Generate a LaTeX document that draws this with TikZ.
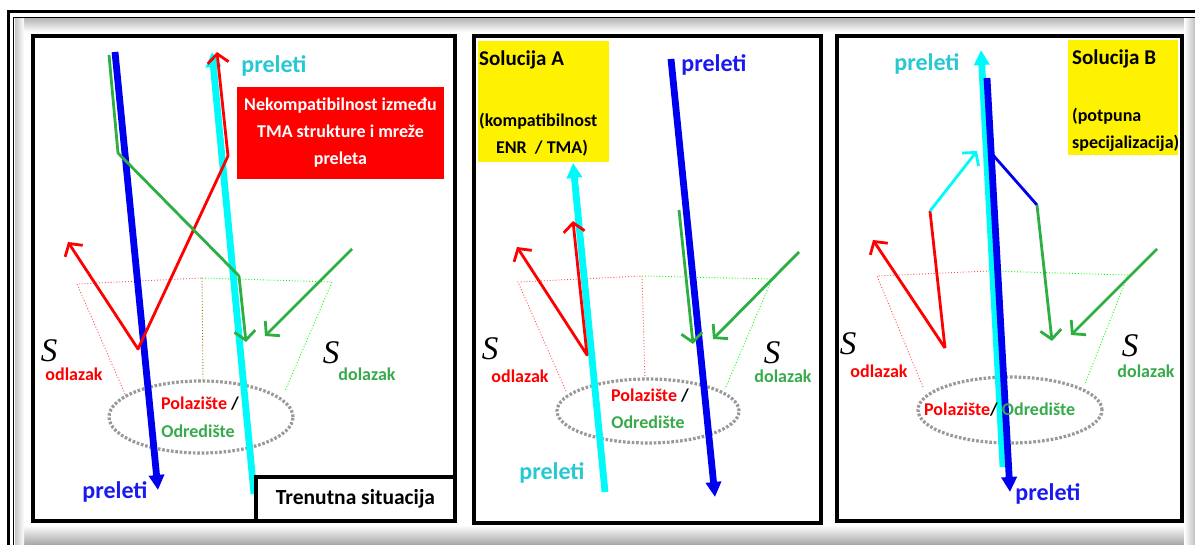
\documentclass[tikz,border=0pt]{standalone}
\usepackage{fontspec}
\setmainfont{Carlito}
\newfontfamily\symfont{Liberation Serif}
\usetikzlibrary{arrows.meta,shapes.geometric}
\definecolor{grn}{RGB}{45,175,65}
\definecolor{grntxt}{RGB}{55,170,75}
\definecolor{cyntxt}{RGB}{40,200,210}
\definecolor{blutxt}{RGB}{25,25,240}
\definecolor{cyn}{RGB}{0,250,250}
\definecolor{blu}{RGB}{0,0,240}
\tikzset{
	panel/.style={draw,line width=3.5pt,fill=white},
	fly/.style={line width=6.8pt,-{Triangle[length=15pt,width=15pt]}},
	leg/.style={line width=2.8pt,line join=round,-{Straight Barb[length=9pt,width=21pt]}},
	legs/.style={line width=2.8pt,line join=round,{Straight Barb[length=9pt,width=21pt]}-{Straight Barb[length=9pt,width=21pt]}},
	zone/.style={line width=0.9pt,dotted},
	apt/.style={ellipse,draw=gray!80,line width=3.2pt,dash pattern=on 2.6pt off 1.8pt,inner sep=0pt},
	lbl/.style 2 args={font=\bfseries\fontsize{24}{28}\selectfont,text=#1,name=#2,inner sep=0pt},
	txt/.style={font=\bfseries\fontsize{18}{27}\selectfont,inner sep=0pt},
	sym/.style={font=\symfont\itshape\fontsize{33}{33}\selectfont,inner sep=0pt}
}
\begin{document}
\begin{tikzpicture}[x=1pt,y=-1pt]
	\useasboundingbox (0,0) rectangle (1195,545);
	% frame round the three panels
	\shade[top color=gray!55,bottom color=white] (15,19) rectangle (1195,32);
	\shade[top color=white,bottom color=gray!70] (15,525) rectangle (1195,545);
	\shade[left color=gray!45,right color=white] (15,19) rectangle (24,545);
	\shade[left color=white,right color=gray!50] (1184,19) rectangle (1195,545);
	\draw[line width=3.5pt] (8.5,560) |- (1210,11.3);
	\draw[line width=1.5pt] (13.5,560) |- (1210,17.5);

	% panel 1
	\draw[panel] (33,36) rectangle (455,521);
	\coordinate (t1a) at (77,284); \coordinate (t1b) at (202,278);
	\coordinate (t1c) at (332,282); \coordinate (t1d) at (125,394);
	\coordinate (t1e) at (285,391); \coordinate (t1f) at (203,381);
	\draw[zone,red!70] (t1d) -- (t1a) -- (t1b);
	\draw[zone,red!60!green] (t1b) -- (t1f);
	\draw[zone,green] (t1b) -- (t1c) -- (t1e);
	\node[apt,minimum width=184,minimum height=72] (ap1) at (201,417) {};
	\coordinate (b1s) at (115,52); \coordinate (b1e) at (158,490);
	\coordinate (c1s) at (254,494); \coordinate (c1e) at (212,52);
	\draw[fly,blu] (b1s) -- (b1e);
	\draw[fly,cyn] (c1s) -- (c1e);
	\coordinate (r1a) at (68,242); \coordinate (r1b) at (138,349);
	\coordinate (r1c) at (228,156); \coordinate (r1d) at (217,52);
	\draw[legs,red] (r1a) -- (r1b) -- (r1c) -- (r1d);
	\coordinate (g1a) at (109,55); \coordinate (g1b) at (118,153);
	\coordinate (g1c) at (239,276); \coordinate (g1d) at (246,342);
	\coordinate (g1e) at (352,249); \coordinate (g1f) at (265,336);
	\draw[leg,grn] (g1a) -- (g1b) -- (g1c) -- (g1d);
	\draw[leg,grn] (g1e) -- (g1f);
	\node[lbl={blutxt}{pb1}] at (115,492) {preleti};
	\node[lbl={cyntxt}{pc1}] at (274,66) {preleti};
	\node[txt,fill=red,text=white,align=center,minimum width=207,minimum height=92] (inc) at (340.5,133)
		{Nekompatibilnost između\\TMA strukture i mreže\\preleta};
	\node[sym] (s1o) at (49,351) {S};
	\node[txt,text=red] (o1) at (74,374) {odlazak};
	\node[sym] (s1d) at (331,353) {S};
	\node[txt,text=grntxt] (d1) at (367,374) {dolazak};
	\node[txt] (pz1) at (200,404) {\textcolor{red}{Polazište} /};
	\node[txt,text=grntxt] (od1) at (198,431) {Odredište};
	\node[txt,font=\bfseries\fontsize{21.5}{24}\selectfont,draw,line width=3.5pt,fill=white,minimum width=199,minimum height=44] (now) at (355.5,499) {Trenutna situacija};

	% panel 2
	\draw[panel] (474,36) rectangle (821,523);
	\node[fill=yellow,anchor=north west,minimum width=131,minimum height=121,inner sep=0pt] (solA) at (478,41) {};
	\node[txt,font=\bfseries\fontsize{21}{24}\selectfont,anchor=west] (solAt) at (479,60) {Solucija A};
	\node[txt,anchor=west] (solA1) at (479,121) {(kompatibilnost};
	\node[txt] (solA2) at (542,148) {ENR\ \ / TMA)};
	\coordinate (t2a) at (518,282); \coordinate (t2b) at (642,276);
	\coordinate (t2c) at (772,279); \coordinate (t2d) at (566,391);
	\coordinate (t2e) at (725,389); \coordinate (t2f) at (645,379);
	\draw[zone,red!70] (t2d) -- (t2a) -- (t2b) -- (t2f);
	\draw[zone,green] (t2b) -- (t2c) -- (t2e);
	\node[apt,minimum width=182,minimum height=64] (ap2) at (648,411) {};
	\coordinate (c2s) at (605,492); \coordinate (c2e) at (573,163);
	\coordinate (b2s) at (671,59); \coordinate (b2e) at (715,497);
	\draw[fly,cyn] (c2s) -- (c2e);
	\draw[fly,blu] (b2s) -- (b2e);
	\coordinate (r2a) at (517,247); \coordinate (r2b) at (587,355);
	\coordinate (r2c) at (573,221);
	\draw[legs,red] (r2a) -- (r2b) -- (r2c);
	\coordinate (g2a) at (679,210); \coordinate (g2b) at (693,344);
	\coordinate (g2c) at (799,252); \coordinate (g2d) at (713,339);
	\draw[leg,grn] (g2a) -- (g2b);
	\draw[leg,grn] (g2c) -- (g2d);
	\node[lbl={blutxt}{pb2}] at (714,65) {preleti};
	\node[lbl={cyntxt}{pc2}] at (552,473) {preleti};
	\node[sym] (s2o) at (490,349) {S};
	\node[txt,text=red] (o2) at (520,376) {odlazak};
	\node[sym] (s2d) at (772,353) {S};
	\node[txt,text=grntxt] (d2) at (783,376) {dolazak};
	\node[txt] (pz2) at (650,396) {\textcolor{red}{Polazište} /};
	\node[txt,text=grntxt] (od2) at (648,422) {Odredište};

	% panel 3
	\draw[panel] (837,36) rectangle (1182,521);
	\node[fill=yellow,anchor=north west,minimum width=110,minimum height=115,inner sep=0pt] (solB) at (1068,40) {};
	\coordinate (t3a) at (877,276); \coordinate (t3b) at (988,271);
	\coordinate (t3c) at (1128,275); \coordinate (t3d) at (923,387);
	\coordinate (t3e) at (1085,384);
	\draw[zone,red!70] (t3d) -- (t3a) -- (t3b);
	\draw[zone,green] (t3b) -- (t3c) -- (t3e);
	\node[apt,minimum width=184,minimum height=66] (ap3) at (1010,410) {};
	\coordinate (c3s) at (1003,467); \coordinate (c3e) at (981,50);
	\coordinate (b3s) at (987,78); \coordinate (b3e) at (1010,492);
	\draw[fly,cyn] (c3s) -- (c3e);
	\draw[fly,blu] (b3s) -- (b3e);
	\coordinate (r3a) at (873,240); \coordinate (r3b) at (945,348);
	\coordinate (r3c) at (930,211); \coordinate (x3a) at (977,151);
	\draw[leg,red,-] (r3c) -- (r3b);
	\draw[leg,red] (r3b) -- (r3a);
	\draw[leg,cyn] (r3c) -- (x3a);
	\coordinate (x3b) at (993,155); \coordinate (g3a) at (1037,205);
	\coordinate (g3b) at (1052,341);
	\coordinate (g3c) at (1157,249); \coordinate (g3d) at (1071,335);
	\draw[leg,blu,-] (x3b) -- (g3a);
	\draw[leg,grn] (g3a) -- (g3b);
	\draw[leg,grn] (g3c) -- (g3d);
	\node[lbl={cyntxt}{pc3}] at (927,64) {preleti};
	\node[lbl={blutxt}{pb3}] at (1048,494) {preleti};
	\node[sym] (s3o) at (848,344) {S};
	\node[txt,text=red] (o3) at (879,371) {odlazak};
	\node[sym] (s3d) at (1130,346) {S};
	\node[txt,text=grntxt] (d3) at (1146,371) {dolazak};
	\node[txt,anchor=west] (pz3) at (924,410) {\textcolor{red}{Polazište}/ \textcolor{grntxt}{Odredište}};
	\node[txt,font=\bfseries\fontsize{21}{24}\selectfont,anchor=west] (solBt) at (1072,59) {Solucija B};
	\node[txt,anchor=west] (solB1) at (1072,116) {(potpuna};
	\node[txt,anchor=west] (solB2) at (1072,143) {specijalizacija)};
\end{tikzpicture}
\end{document}
